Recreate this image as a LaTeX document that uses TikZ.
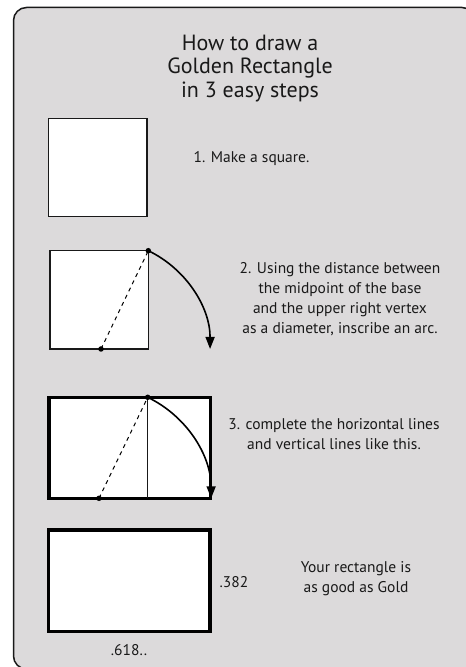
\documentclass[tikz,border=0pt]{standalone}
\usepackage{fontspec}
\setmainfont{PT Sans}
\usetikzlibrary{arrows.meta}
\definecolor{panelgray}{RGB}{220,218,219}
\definecolor{ink}{RGB}{25,25,25}
\begin{document}
\begin{tikzpicture}[x=1pt,y=1pt,
  thinbox/.style={draw=ink, line width=1.2pt, fill=white},
  thickbox/.style={draw=black, line width=3.5pt, fill=white},
  divider/.style={draw=ink, line width=1pt},
  guide/.style={draw=black, line width=1pt, dash pattern=on 4pt off 4pt},
  dotmark/.style={fill=black, circle, inner sep=0pt, minimum size=5.5pt},
  arcarrow/.style={draw=black, line width=1.6pt, -{Triangle[length=12pt,width=9pt]}},
  bodytext/.style={font=\fontsize{15.5}{19.8}\selectfont, align=center, text=ink},
  titletext/.style={font=\fontsize{22}{23.5}\selectfont, align=center, text=ink},
 ]
\useasboundingbox (0,0) rectangle (466,667);
\clip (0,0) rectangle (466,667);
% panel
\draw[fill=panelgray, draw=ink, line width=1.5pt, rounded corners=13pt] (13.5,-2) rectangle (475,659.5);
% title
\node[titletext] (title) at (250,598.5) {How to draw a\\Golden Rectangle\\in 3 easy steps};
% step 1
\coordinate (s1a) at (48.5,450.3);
\coordinate (s1b) at (147,548.7);
\draw[thinbox] (s1a) rectangle (s1b);
\node[bodytext] (t1) at (251.5,508) {1. Make a square.};
% step 2
\coordinate (s2a) at (50,318);
\coordinate (v2) at (148.3,416.3);
\coordinate (m2) at (101,318);
\draw[thinbox] (s2a) rectangle (v2);
\draw[guide] (m2) -- (v2);
\draw[arcarrow] (v2) arc[start angle=64.3, end angle=0, radius=109.1];
\node[dotmark] (d2v) at (v2) {};
\node[dotmark] (d2m) at (m2) {};
\node[bodytext] (t2) at (340,368) {2. Using the distance between\\the midpoint of the base\\and the upper right vertex\\as a diameter, inscribe an arc.};
% step 3
\coordinate (s3a) at (49,168.7);
\coordinate (s3b) at (210.3,269.7);
\coordinate (v3) at (147.7,269.7);
\coordinate (b3) at (147.7,168.7);
\coordinate (m3) at (99,168.7);
\draw[thickbox] (s3a) rectangle (s3b);
\draw[divider] (b3) -- (v3);
\draw[guide] (m3) -- (v3);
\draw[arcarrow] (v3) arc[start angle=64.26, end angle=0, radius=112.1];
\node[dotmark] (d3v) at (v3) {};
\node[dotmark] (d3m) at (m3) {};
\node[bodytext] (t3) at (334,233) {3. complete the horizontal lines\\and vertical lines like this.};
% step 4
\coordinate (s4a) at (48.3,35.3);
\coordinate (s4b) at (210,137);
\draw[thickbox] (s4a) rectangle (s4b);
\node[bodytext] (h4) at (234,84.5) {.382};
\node[bodytext] (w4) at (129,17) {.618..};
\node[bodytext] (t4) at (356,88.5) {Your rectangle is\\as good as Gold};
\end{tikzpicture}
\end{document}
